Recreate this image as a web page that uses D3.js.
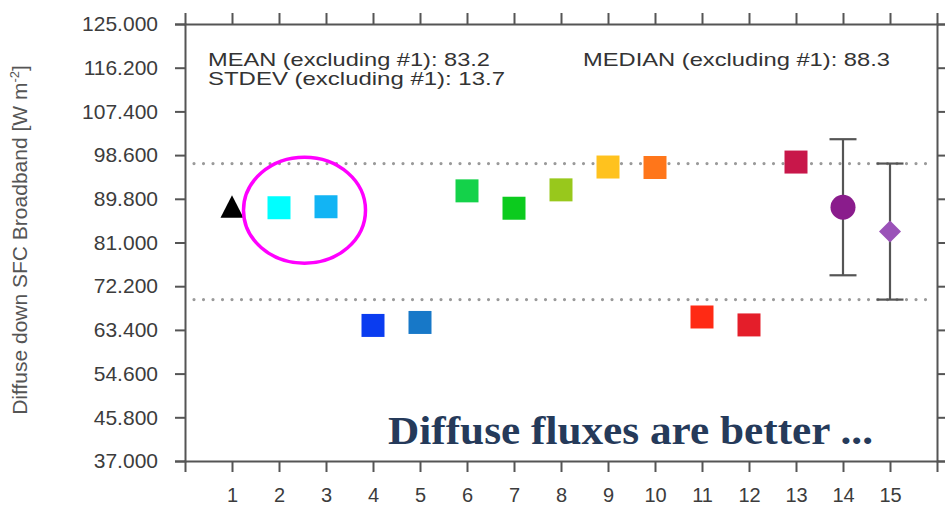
<!DOCTYPE html>
<html lang="en">
<head>
  <meta charset="UTF-8"/>
  <title>Diffuse down SFC Broadband</title>
  <script src="https://d3js.org/d3.v7.min.js"></script>
  <style>
    body { margin: 0; background: #fff; }
    text { font-family: "Liberation Sans", Arial, Helvetica, sans-serif; }
  </style>
</head>
<body>
<script>

  // data
  var models  = [1, 2, 3, 4, 5, 6, 7, 8, 9, 10, 11, 12, 13, 14, 15];
  var values  = [88.2, 88.0, 88.2, 64.3, 64.9, 91.4, 87.9, 91.6, 96.2, 96.1, 66.0, 64.4, 97.2, 88.1, 83.2];
  var errors  = [0, 0, 0, 0, 0, 0, 0, 0, 0, 0, 0, 0, 0, 13.7, 13.7];
  var colors  = ["#000000", "#00ffff", "#12b4f4", "#0a3cf0", "#1778c8", "#14d24a", "#0ccb1e", "#98c81c",
                 "#ffc21e", "#ff761a", "#ff2a14", "#e41e2a", "#c8174a", "#8a1c8c", "#9a52b8"];
  var shapes  = ["triangle", "square", "square", "square", "square", "square", "square", "square",
                 "square", "square", "square", "square", "square", "circle", "diamond"];
  var yTicks  = [37, 45.8, 54.6, 63.4, 72.2, 81, 89.8, 98.6, 107.4, 116.2, 125];
  var statMean = 83.2, statStdev = 13.7, statMedian = 88.3;

  var w = 945, h = 507;
  var mLeft = 185, mRight = 937, mTop = 24, mBottom = 461;

  var x = d3.scaleLinear().domain([0, 16]).range([mLeft, mRight]);
  var y = d3.scaleLinear().domain([37, 125]).range([mBottom, mTop]);

  var svg = d3.select("body").append("svg")
      .attr("width", w)
      .attr("height", h);

  // dotted lines at mean +/- stdev
  svg.selectAll(".ref")
      .data([statMean + statStdev, statMean - statStdev])
      .enter().append("line")
      .attr("x1", mLeft + 9)
      .attr("x2", mRight - 3)
      .attr("y1", function(d) { return y(d); })
      .attr("y2", function(d) { return y(d); })
      .attr("stroke", "#9a9a9a")
      .attr("stroke-width", 3.2)
      .attr("stroke-linecap", "round")
      .attr("stroke-dasharray", "0,9.5");

  // axes
  var axisLeft = d3.axisLeft(y).tickValues(yTicks).tickSize(10).tickPadding(17)
      .tickFormat(d3.format(".3f"));
  var axisRight = d3.axisRight(y).tickValues(yTicks).tickSize(10).tickFormat("");
  var axisBottom = d3.axisBottom(x).tickValues(models).tickSize(11).tickPadding(16)
      .tickFormat(d3.format("d"));
  var axisTop = d3.axisTop(x).tickValues(models).tickSize(11).tickFormat("");

  svg.append("g").attr("transform", "translate(" + mLeft + ",0)").call(axisLeft);
  svg.append("g").attr("transform", "translate(" + mRight + ",0)").call(axisRight);
  var gx = svg.append("g").attr("transform", "translate(0," + mBottom + ")").call(axisBottom);
  svg.append("g").attr("transform", "translate(0," + mTop + ")").call(axisTop);

  svg.selectAll(".domain, .tick line")
      .attr("stroke", "#555")
      .attr("stroke-width", 2);
  svg.selectAll(".tick text")
      .attr("fill", "#3c3c3c")
      .style("font-size", "21px");
  gx.selectAll(".tick text").style("font-size", "20px");

  // error bars
  var eb = svg.selectAll(".err")
      .data(models.filter(function(d, i) { return errors[i] > 0; }))
      .enter().append("g");
  eb.append("line")
      .attr("x1", function(d) { return x(d); })
      .attr("x2", function(d) { return x(d); })
      .attr("y1", function(d) { return y(values[d - 1] + errors[d - 1]); })
      .attr("y2", function(d) { return y(values[d - 1] - errors[d - 1]); });
  [1, -1].forEach(function(s) {
    eb.append("line")
      .attr("x1", function(d) { return x(d) - 13.5; })
      .attr("x2", function(d) { return x(d) + 13.5; })
      .attr("y1", function(d) { return y(values[d - 1] + s * errors[d - 1]); })
      .attr("y2", function(d) { return y(values[d - 1] + s * errors[d - 1]); });
  });
  eb.selectAll("line").attr("stroke", "#555").attr("stroke-width", 2.2);

  // markers
  function markerPath(shape) {
    if (shape == "square") return d3.symbol(d3.symbolSquare, 23 * 23)();
    if (shape == "circle") return d3.symbol(d3.symbolCircle, Math.PI * 12.5 * 12.5)();
    if (shape == "diamond") return d3.symbol(d3.symbolSquare, 15.6 * 15.6)();
    return "M0,-11.5L11.5,11L-11.5,11Z";
  }

  svg.selectAll(".pt")
      .data(models)
      .enter().append("path")
      .attr("d", function(d, i) { return markerPath(shapes[i]); })
      .attr("transform", function(d, i) {
        var t = "translate(" + x(d) + "," + y(values[i]) + ")";
        if (shapes[i] == "diamond") t += " rotate(45)";
        return t;
      })
      .attr("fill", function(d, i) { return colors[i]; });

  // stats text
  var stats = svg.append("g").attr("fill", "#333").style("font-size", "18.5px");
  stats.append("text").attr("x", 208).attr("y", 65.5)
      .attr("textLength", 282).attr("lengthAdjust", "spacingAndGlyphs")
      .text("MEAN (excluding #1): " + statMean);
  stats.append("text").attr("x", 208).attr("y", 84.5)
      .attr("textLength", 297).attr("lengthAdjust", "spacingAndGlyphs")
      .text("STDEV (excluding #1): " + statStdev);
  stats.append("text").attr("x", 583).attr("y", 65.5)
      .attr("textLength", 307).attr("lengthAdjust", "spacingAndGlyphs")
      .text("MEDIAN (excluding #1): " + statMedian);

  // y axis title
  var yl = svg.append("text")
      .attr("transform", "translate(27,240) rotate(-90)")
      .attr("text-anchor", "middle")
      .attr("fill", "#555")
      .style("font-size", "21px");
  yl.append("tspan").text("Diffuse down SFC Broadband [W m");
  yl.append("tspan").attr("dy", -8).style("font-size", "13px").text("-2");
  yl.append("tspan").attr("dy", 8).text("]");

  // highlight ellipse round models 2 and 3
  svg.append("ellipse")
      .attr("cx", x(2.5) + 2)
      .attr("cy", y(88.1) + 3)
      .attr("rx", 61)
      .attr("ry", 53)
      .attr("fill", "none")
      .attr("stroke", "#ff00ff")
      .attr("stroke-width", 3.5);

  svg.append("text")
      .attr("x", 388)
      .attr("y", 444)
      .attr("fill", "#253a5a")
      .attr("textLength", 485)
      .attr("lengthAdjust", "spacingAndGlyphs")
      .style("font-family", "'Liberation Serif', 'Times New Roman', serif")
      .style("font-weight", "bold")
      .style("font-size", "39px")
      .text("Diffuse fluxes are better ...");

</script>
</body>
</html>
